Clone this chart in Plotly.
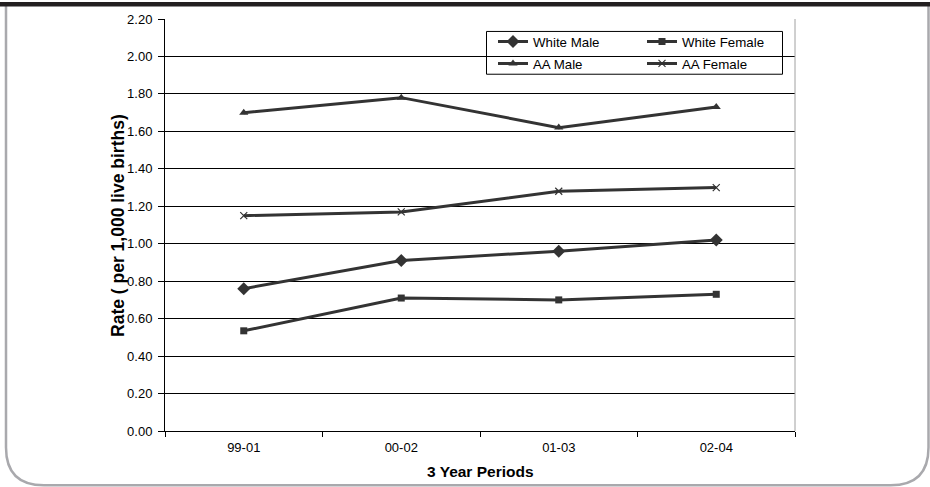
import plotly.graph_objects as go

# Three-year periods and rates per 1,000 live births
periods = ["99-01", "00-02", "01-03", "02-04"]
white_male = [0.76, 0.91, 0.96, 1.02]
white_female = [0.535, 0.71, 0.70, 0.73]
aa_male = [1.70, 1.78, 1.62, 1.73]
aa_female = [1.15, 1.17, 1.28, 1.30]

series_names = ["White Male", "White Female", "AA Male", "AA Female"]
series_values = [white_male, white_female, aa_male, aa_female]
y_tick_values = [0.0, 0.2, 0.4, 0.6, 0.8, 1.0, 1.2, 1.4, 1.6, 1.8, 2.0, 2.2]

W, H = 930, 487
ML, MR, MT, MB = 165, 135, 17, 56
PW, PH = W - ML - MR, H - MT - MB

FONT = "Liberation Sans, Arial, sans-serif"
LINE = "#333333"


def px(x):
    return (x - ML) / PW


def py(y):
    return (H - MB - y) / PH


markers = [
    dict(symbol="diamond", size=10),
    dict(symbol="square", size=7),
    dict(symbol="triangle-up", size=8),
    dict(symbol="x-thin", size=7, line=dict(width=1.2, color=LINE)),
]

# legend slot positions (pixel x of entry start, pixel y of row centre)
legend_slots = [(493, 40), (642, 40), (493, 62), (642, 62)]

fig = go.Figure()
for i, (name, vals, mk) in enumerate(zip(series_names, series_values, markers)):
    leg = "legend" if i == 0 else f"legend{i + 1}"
    fig.add_trace(go.Scatter(
        x=periods, y=vals, name=name, mode="lines+markers",
        line=dict(color=LINE, width=3),
        marker=dict(color=LINE, **mk),
        legend=leg, hoverinfo="x+y+name",
    ))

layout_legends = {}
for i, (lx, ly) in enumerate(legend_slots):
    key = "legend" if i == 0 else f"legend{i + 1}"
    layout_legends[key] = dict(
        x=px(lx), y=py(ly), xanchor="left", yanchor="middle",
        bgcolor="rgba(0,0,0,0)", borderwidth=0,
        font=dict(family=FONT, size=13.3, color="#000"),
        itemwidth=30,
    )


def frame_path(x0, y0, x1, y1, r):
    pts = [
        ("M", [(x0, y0)]),
        ("L", [(x0, y1 - r)]),
        ("Q", [(x0, y1), (x0 + r, y1)]),
        ("L", [(x1 - r, y1)]),
        ("Q", [(x1, y1), (x1, y1 - r)]),
        ("L", [(x1, y0)]),
    ]
    out = []
    for cmd, coords in pts:
        out.append(cmd + " ".join(f"{px(a):.5f},{py(b):.5f}" for a, b in coords))
    return " ".join(out)


shapes = [
    # outer rounded frame
    dict(type="path", xref="paper", yref="paper", path=frame_path(6, 3, 928.5, 485.5, 38),
         line=dict(color="#a9a9ad", width=2.5), layer="below"),
    # dark header band
    dict(type="rect", xref="paper", yref="paper", x0=px(0), x1=px(W), y0=py(0), y1=py(4.5),
         fillcolor="#231f20", line=dict(width=0), layer="above"),
    # right border of plot area
    dict(type="line", xref="paper", yref="paper", x0=1, x1=1, y0=0, y1=1,
         line=dict(color="#a0a0a0", width=1)),
    # legend box
    dict(type="rect", xref="paper", yref="paper", x0=px(486.5), x1=px(782.5), y0=py(29.5), y1=py(72.5),
         fillcolor="white", line=dict(color="#000", width=1), layer="below"),
]

annotations = [
    dict(text="<b>Rate ( per 1,000 live births)</b>", xref="paper", yref="paper",
         x=px(118), y=py(225), xanchor="center", yanchor="middle",
         textangle=-90, showarrow=False,
         font=dict(family=FONT, size=17.5, color="#000")),
    dict(text="<b>3 Year Periods</b>", xref="paper", yref="paper",
         x=px(480), y=py(472), xanchor="center", yanchor="middle", showarrow=False,
         font=dict(family=FONT, size=15.5, color="#000")),
]

fig.update_layout(
    width=W, height=H,
    margin=dict(l=ML, r=MR, t=MT, b=MB, pad=0),
    paper_bgcolor="white", plot_bgcolor="white",
    showlegend=True,
    shapes=shapes, annotations=annotations,
    **layout_legends,
)
fig.update_xaxes(
    type="category", range=[-0.5, 3.5], showgrid=False,
    showline=True, linecolor="#000", linewidth=1,
    ticks="outside", tickson="boundaries", ticklen=5, tickcolor="#000",
    tickfont=dict(family=FONT, size=13, color="#000"),
    ticklabelstandoff=4,
    fixedrange=True,
)
fig.update_yaxes(
    range=[0, 2.2], tickvals=y_tick_values, tickformat=".2f",
    showgrid=True, gridcolor="#000", gridwidth=1,
    showline=True, linecolor="#000", linewidth=1, zeroline=False,
    ticks="outside", ticklen=6, tickcolor="#000",
    tickfont=dict(family=FONT, size=13, color="#000"),
    ticklabelstandoff=3,
    fixedrange=True,
)

fig.write_html("out.html", config={"displayModeBar": False})
